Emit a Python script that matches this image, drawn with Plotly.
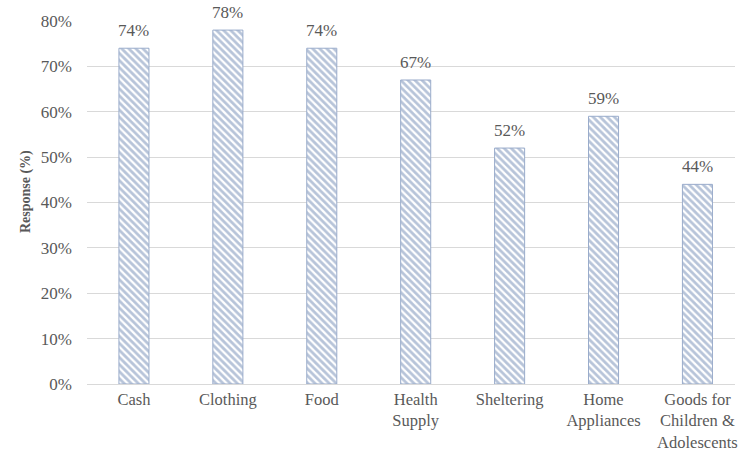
import plotly.graph_objects as go

categories = ["Cash", "Clothing", "Food", "Health<br>Supply", "Sheltering",
              "Home<br>Appliances", "Goods for<br>Children &<br>Adolescents"]
responses = [74, 78, 74, 67, 52, 59, 44]
y_ticks = [0, 10, 20, 30, 40, 50, 60, 70, 80]
y_tick_labels = [f"{v}%" for v in y_ticks]

font_family = "Liberation Serif, Times New Roman, serif"
text_color = "#595959"

fig = go.Figure(
    go.Bar(
        x=categories,
        y=responses,
        width=0.32,
        marker=dict(
            color="white",
            line=dict(color="#9aaccb", width=1),
            pattern=dict(shape="\\", fgcolor="#7089b4", bgcolor="white",
                         size=5, solidity=0.55, fillmode="overlay"),
        ),
        cliponaxis=False,
    )
)

# value labels above each bar
for cat, val in zip(categories, responses):
    fig.add_annotation(
        x=cat, y=val, text=f"{val}%", showarrow=False,
        yanchor="bottom", yshift=6,
        font=dict(family=font_family, size=17, color=text_color),
    )

# rotated y-axis title
fig.add_annotation(
    x=-0.095, y=0.53, xref="paper", yref="paper",
    text="<b>Response (%)</b>", textangle=-90, showarrow=False,
    xanchor="center", yanchor="middle",
    font=dict(family=font_family, size=14, color=text_color),
)

fig.update_layout(
    width=738,
    height=456,
    margin=dict(l=87, r=0, t=21, b=72),
    plot_bgcolor="white",
    paper_bgcolor="white",
    showlegend=False,
    font=dict(family=font_family, size=17, color=text_color),
)

fig.update_xaxes(
    range=[-0.5, 6.4],
    showline=True,
    linecolor="#d9d9d9",
    linewidth=1,
    tickfont=dict(family=font_family, size=16.5, color=text_color),
    ticks="",
)

fig.update_yaxes(
    range=[0, 80],
    tickvals=y_ticks,
    ticktext=y_tick_labels,
    showgrid=True,
    gridcolor="#d9d9d9",
    gridwidth=1,
    zeroline=False,
    ticks="",
    ticklabelstandoff=14,
    tickfont=dict(family=font_family, size=17, color=text_color),
)

fig.write_html("out.html")
